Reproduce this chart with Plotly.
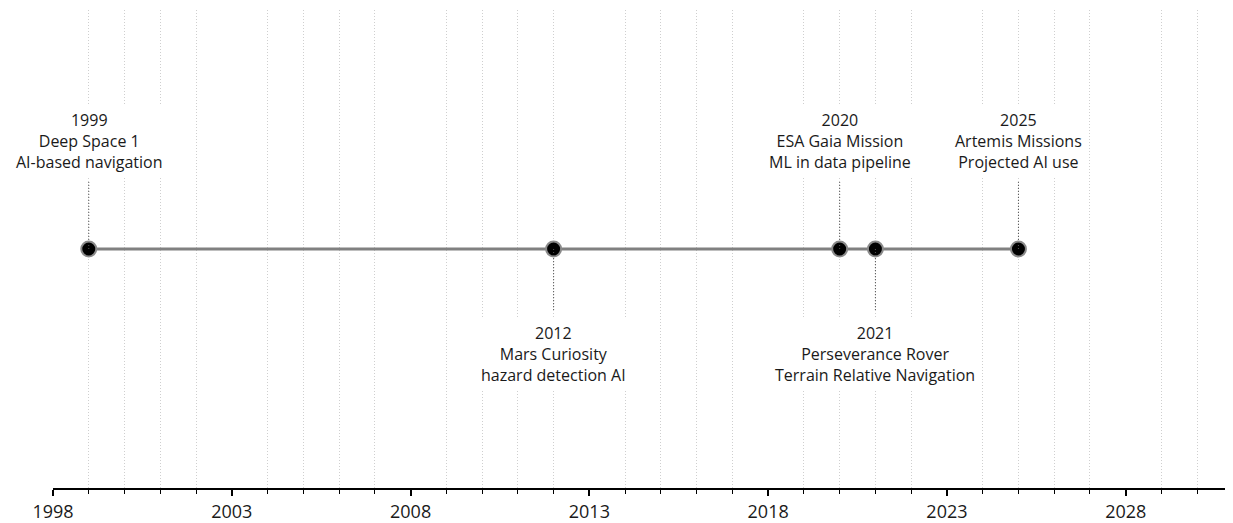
import plotly.graph_objects as go

# ---- data ----
years = [1999, 2012, 2020, 2021, 2025]
titles = ["Deep Space 1", "Mars Curiosity", "ESA Gaia Mission", "Perseverance Rover", "Artemis Missions"]
details = ["AI-based navigation", "hazard detection AI", "ML in data pipeline",
           "Terrain Relative Navigation", "Projected AI use"]
sides = [1, -1, 1, -1, 1]  # 1 = label above, -1 = label below

x_start, x_end = 1998, 2031
major_step = 5

# ---- style constants ----
FONT = "Open Sans"
STEM_UP, STEM_DOWN = 0.28, 0.26
TEXT_UP, TEXT_DOWN = 0.45, 0.44

fig = go.Figure()

# base timeline
fig.add_trace(go.Scatter(
    x=[min(years), max(years)], y=[0, 0], mode="lines",
    line=dict(color="#808080", width=3), hoverinfo="skip", showlegend=False))

# event markers
fig.add_trace(go.Scatter(
    x=years, y=[0] * len(years), mode="markers",
    marker=dict(size=15, color="black", line=dict(color="#8a8a8a", width=2)),
    hoverinfo="skip", showlegend=False))

# stems
sx, sy = [], []
for yr, s in zip(years, sides):
    sx += [yr, yr, None]
    sy += [0, STEM_UP if s > 0 else -STEM_DOWN, None]
fig.add_trace(go.Scatter(
    x=sx, y=sy, mode="lines",
    line=dict(color="#555555", width=1, dash="1px,2px"),
    hoverinfo="skip", showlegend=False))

# labels
for yr, t, d, s in zip(years, titles, details, sides):
    fig.add_annotation(
        x=yr, y=TEXT_UP if s > 0 else -TEXT_DOWN,
        text=f"{yr}<br>{t}<br>{d}", showarrow=False,
        xanchor="center", yanchor="middle", align="center",
        font=dict(family=FONT, size=16, color="#1a1a1a"),
        bgcolor="white", borderpad=3)

fig.update_layout(
    width=1225, height=515,
    margin=dict(l=45, r=0, t=2, b=32),
    paper_bgcolor="white", plot_bgcolor="white",
    xaxis=dict(
        range=[x_start, x_end], tick0=x_start, dtick=major_step,
        showgrid=False, zeroline=False,
        showline=True, linecolor="black", linewidth=2,
        ticks="outside", ticklen=6, tickwidth=1.5, tickcolor="black",
        tickfont=dict(family=FONT, size=18, color="#1a1a1a"),
        minor=dict(dtick=1, tick0=x_start, ticks="outside", ticklen=4, tickwidth=1,
                   tickcolor="black", showgrid=True, gridcolor="#cfcfcf",
                   griddash="1px,2px", gridwidth=1),
    ),
    yaxis=dict(range=[-1, 1], visible=False, fixedrange=True),
)

fig.write_html("out.html")
